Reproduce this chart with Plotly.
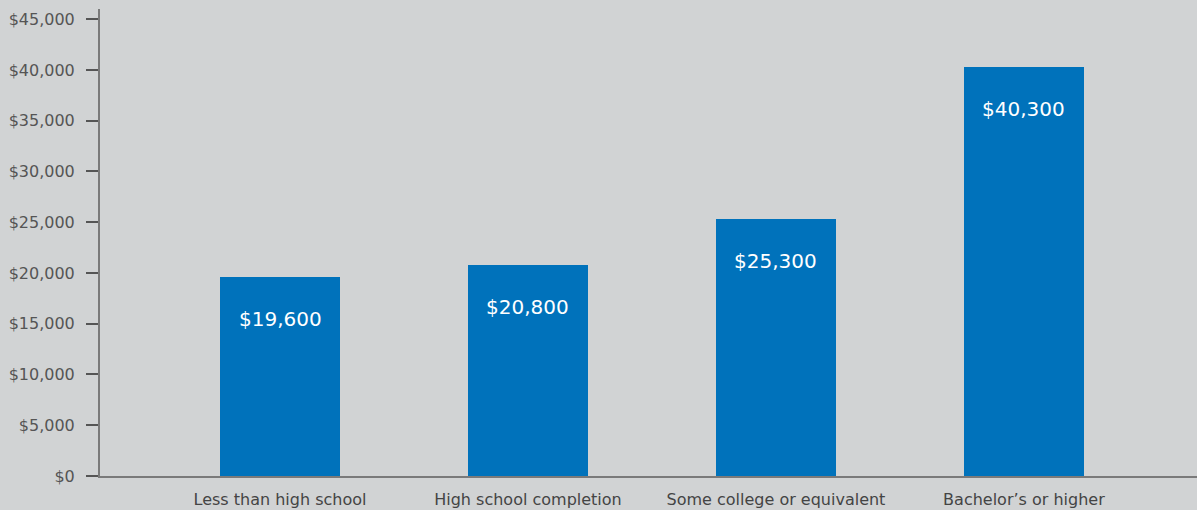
import plotly.graph_objects as go

categories = ["Less than high school", "High school completion", "Some college or equivalent", "Bachelor’s or higher"]
values = [19600, 20800, 25300, 40300]
value_labels = ["$19,600", "$20,800", "$25,300", "$40,300"]
tick_values = [0, 5000, 10000, 15000, 20000, 25000, 30000, 35000, 40000, 45000]
tick_labels = ["$0", "$5,000", "$10,000", "$15,000", "$20,000", "$25,000", "$30,000", "$35,000", "$40,000", "$45,000"]

BG = "#d1d3d4"
BAR = "#0072bb"
FONT = "'DejaVu Sans', 'Noto Sans', sans-serif"

fig = go.Figure()
fig.add_trace(go.Bar(
    x=list(range(len(categories))), y=values, width=0.484,
    marker=dict(color=BAR, line=dict(width=0)),
    hoverinfo="skip",
))
for i, (v, t) in enumerate(zip(values, value_labels)):
    fig.add_annotation(x=i, y=v, text=t, showarrow=False, yanchor="middle",
                       yshift=-42, font=dict(family=FONT, size=20, color="white"))

fig.update_layout(
    width=1197, height=510,
    paper_bgcolor=BG, plot_bgcolor=BG,
    margin=dict(l=100, r=0, t=9, b=34),
    showlegend=False,
    bargap=0,
    font=dict(family=FONT, color="#555555"),
)
fig.update_xaxes(
    range=[-0.726, 3.698], tickvals=list(range(len(categories))), ticktext=categories,
    showgrid=False, zeroline=False, showline=True, linecolor="#7a7a7a", linewidth=2,
    ticks="", tickfont=dict(size=16, color="#444444"), ticklabelstandoff=8, fixedrange=True,
)
fig.update_yaxes(
    range=[0, 46000], tickvals=tick_values, ticktext=tick_labels,
    showgrid=False, zeroline=False, showline=True, linecolor="#7a7a7a", linewidth=2,
    ticks="outside", ticklen=12, tickwidth=1.5, tickcolor="#555555",
    tickfont=dict(size=16, color="#555555"), ticklabelstandoff=8, fixedrange=True,
)

fig.write_html("out.html", config={"displayModeBar": False})
with open("out.html", encoding="utf-8") as f:
    html = f.read()
html = html.replace("<head>", "<head><style>html,body{margin:0;padding:0;overflow:hidden;}</style>", 1)
with open("out.html", "w", encoding="utf-8") as f:
    f.write(html)
